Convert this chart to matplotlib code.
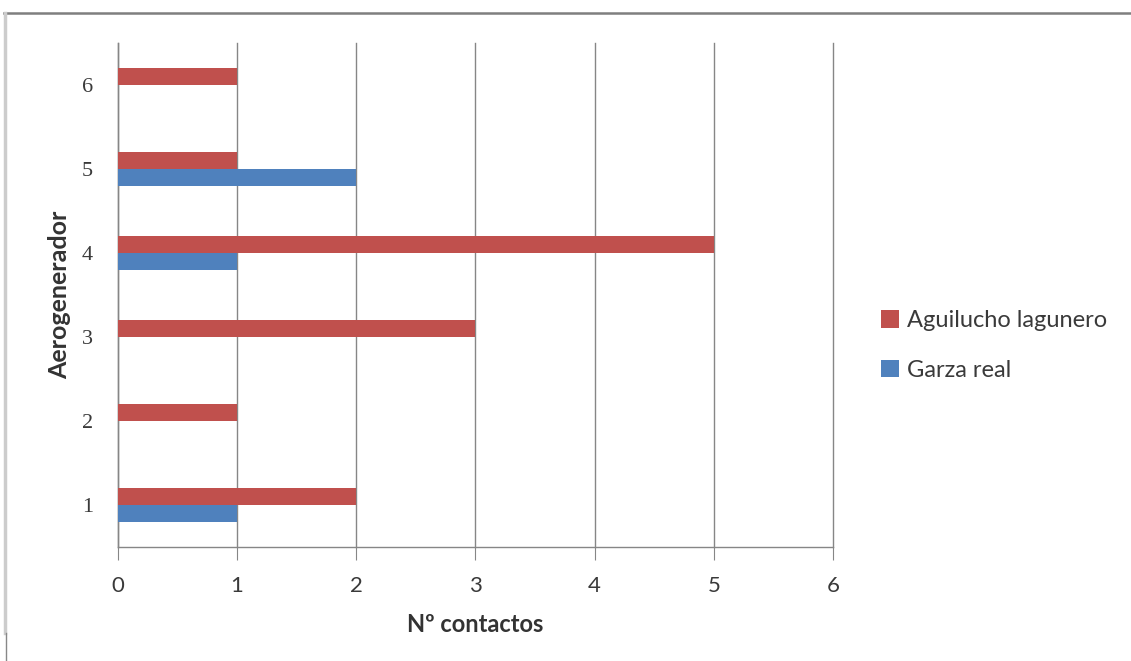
import numpy as np
import matplotlib
matplotlib.use('Agg')
import matplotlib.pyplot as plt
from matplotlib.lines import Line2D

plt.rcParams['font.family'] = ['Lato', 'DejaVu Sans']

aerogeneradores = [1, 2, 3, 4, 5, 6]
aguilucho = [2, 1, 3, 5, 1, 1]
garza = [1, 0, 0, 1, 2, 0]

rojo = '#C0504D'
azul = '#4F81BD'
gris = '#868686'

fig = plt.figure(figsize=(11.31, 6.61), dpi=100)
ax = fig.add_axes([0.1043, 0.1725, 0.6322, 0.7625])

y = np.array(aerogeneradores)
h = 0.2
ax.barh(y + h / 2, aguilucho, height=h, color=rojo, label='Aguilucho lagunero', zorder=3)
ax.barh(y - h / 2, garza, height=h, color=azul, label='Garza real', zorder=3)

ax.set_xlim(0, 6)
ax.set_ylim(0.5, 6.5)
ax.set_xticks(range(0, 7))
ax.set_yticks(aerogeneradores)
ax.grid(axis='x', color=gris, linewidth=1.0, zorder=0)
ax.grid(axis='y', visible=False)
for gl in ax.get_xgridlines():
    gl.set_clip_on(False)

for s in ['top', 'right']:
    ax.spines[s].set_visible(False)
for s in ['left', 'bottom']:
    ax.spines[s].set_color(gris)
    ax.spines[s].set_linewidth(1.0)

ax.tick_params(axis='x', length=9, color=gris, labelsize=16, labelcolor='#3a3a3a', pad=12)
ax.tick_params(axis='y', length=0, labelsize=16, labelcolor='#3a3a3a', pad=18)
for lab in ax.get_yticklabels():
    lab.set_family(['Liberation Serif', 'DejaVu Serif'])

ax.set_xlabel('Nº contactos', fontsize=17, fontweight='bold', color='#333333', labelpad=12)
ax.set_ylabel('Aerogenerador', fontsize=18, fontweight='bold', color='#333333', labelpad=8)

leg = ax.legend(loc='center left', bbox_to_anchor=(1.038, 0.4), frameon=False,
                fontsize=17, handlelength=0.75, handleheight=0.75, handletextpad=0.35,
                labelspacing=1.2)
for t in leg.get_texts():
    t.set_color('#3a3a3a')

# marco exterior
fig.add_artist(Line2D([4 / 1131, 1], [1 - 13 / 661] * 2, color='#7f7f7f', linewidth=1.8))
fig.add_artist(Line2D([4.5 / 1131] * 2, [1 - 13 / 661, 1 - 633 / 661], color='#cccccc', linewidth=2.5))
fig.add_artist(Line2D([5.5 / 1131] * 2, [1 - 633 / 661, 0], color='#888888', linewidth=1.0))

fig.savefig('out.png', dpi=100)
